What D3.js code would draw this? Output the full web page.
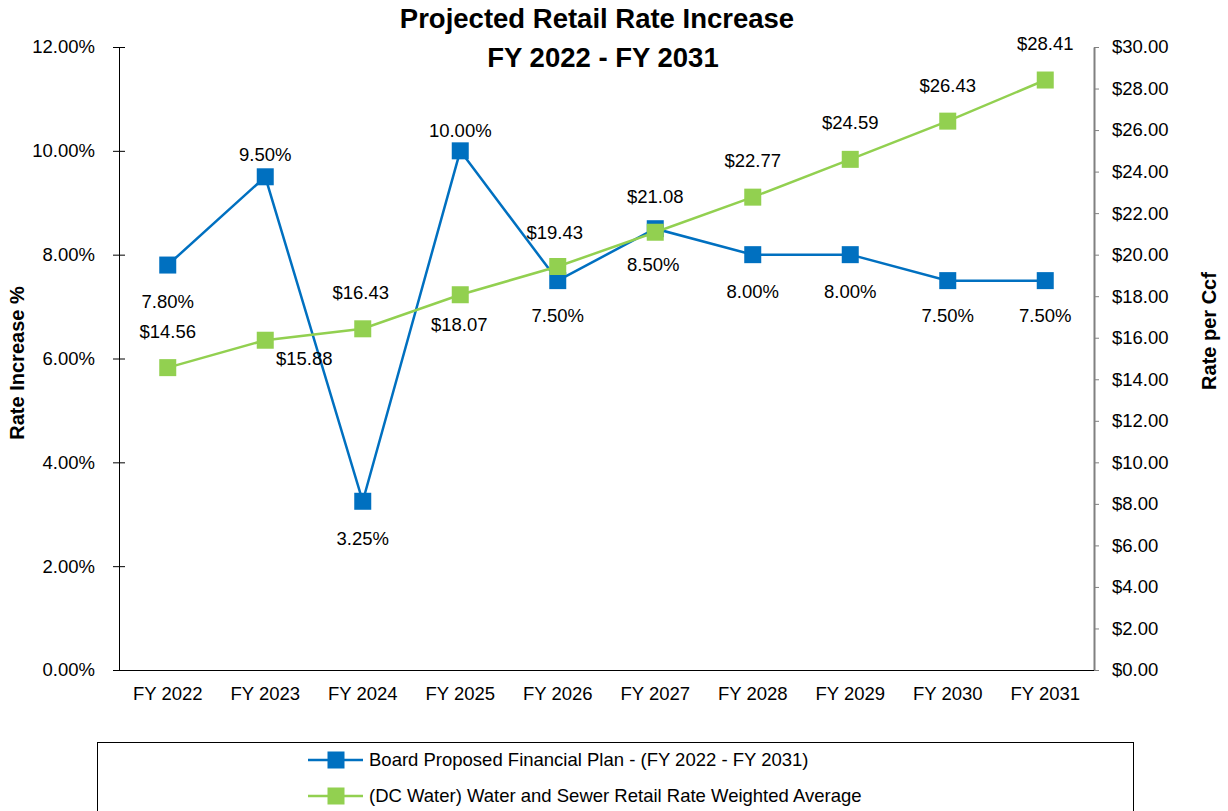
<!DOCTYPE html>
<html>
<head>
<meta charset="utf-8">
<script src="https://cdn.jsdelivr.net/npm/d3@7"></script>
<style>
  body { margin: 0; background: #fff; }
  text { font-family: "Liberation Sans", Arial, sans-serif; fill: #000; }
</style>
</head>
<body>
<div id="holder"></div>
<script>
const w = 1228;
const h = 811;

// Data
const years = ["FY 2022", "FY 2023", "FY 2024", "FY 2025", "FY 2026", "FY 2027", "FY 2028", "FY 2029", "FY 2030", "FY 2031"];
const rateIncrease = [7.80, 9.50, 3.25, 10.00, 7.50, 8.50, 8.00, 8.00, 7.50, 7.50];
const ratePerCcf = [14.56, 15.88, 16.43, 18.07, 19.43, 21.08, 22.77, 24.59, 26.43, 28.41];
const leftTicks = [0, 2, 4, 6, 8, 10, 12];
const rightTicks = [0, 2, 4, 6, 8, 10, 12, 14, 16, 18, 20, 22, 24, 26, 28, 30];
const seriesNames = ["Board Proposed Financial Plan - (FY 2022 - FY 2031)", "(DC Water) Water and Sewer Retail Rate Weighted Average"];

const blue = "#0070C0";
const green = "#92D050";
const fs = 18.5;

// label placement (dx, dy from marker)
const blueLabelPos = [[0, 36], [0, -22], [0, 37], [0, -20], [0, 35], [-2, 36], [0, 37], [0, 37], [0, 35], [0, 35]];
const greenLabelPos = [[0, -36], [39, 18], [-2, -36], [-1, 30], [-3, -34], [0, -36], [0, -37], [0, -37], [0, -36], [0, -36]];

const svg = d3.select("#holder")
    .append("svg")
    .attr("width", w)
    .attr("height", h)

const plotLeft = 119, plotRight = 1094, plotTop = 47, plotBottom = 670;

const x = d3.scaleBand()
    .domain(years)
    .range([plotLeft, plotRight])

const yLeft = d3.scaleLinear()
    .domain([0, 12])
    .range([plotBottom, plotTop])

const yRight = d3.scaleLinear()
    .domain([0, 30])
    .range([plotBottom, plotTop])

// Title
svg.append("text")
    .attr("x", 597).attr("y", 28)
    .attr("text-anchor", "middle")
    .attr("font-size", 27.5).attr("font-weight", "bold")
    .text("Projected Retail Rate Increase")
svg.append("text")
    .attr("x", 603).attr("y", 67)
    .attr("text-anchor", "middle")
    .attr("font-size", 27.5).attr("font-weight", "bold")
    .text("FY 2022 - FY 2031")

// Left axis (cross ticks)
const leftAxis = d3.axisLeft(yLeft)
    .tickValues(leftTicks)
    .tickFormat(d => d.toFixed(2) + "%")
    .tickSizeInner(6)
    .tickSizeOuter(0)
    .tickPadding(18)

const gLeft = svg.append("g")
    .attr("transform", `translate(${plotLeft},0)`)
    .call(leftAxis)
gLeft.selectAll(".tick line").attr("x2", -6).attr("x1", 6).attr("stroke", "#000")
gLeft.select(".domain").attr("stroke", "#000")
gLeft.selectAll("text").attr("font-size", fs).attr("font-family", "Liberation Sans")

// Right axis
const rightAxis = d3.axisRight(yRight)
    .tickValues(rightTicks)
    .tickFormat(d => "$" + d.toFixed(2))
    .tickSizeInner(5)
    .tickSizeOuter(0)
    .tickPadding(13)

const gRight = svg.append("g")
    .attr("transform", `translate(${plotRight},0)`)
    .call(rightAxis)
gRight.selectAll(".tick line").attr("stroke", "#808080")
gRight.select(".domain").attr("stroke", "#808080").attr("stroke-width", 2)
gRight.selectAll("text").attr("font-size", fs).attr("font-family", "Liberation Sans")

// X axis
const xAxis = d3.axisBottom(x)
    .tickSize(0)
    .tickPadding(17)

const gX = svg.append("g")
    .attr("transform", `translate(0,${plotBottom})`)
    .call(xAxis)
gX.select(".domain").attr("stroke", "#000").attr("d", `M${plotLeft - 6},0.5H${plotRight}`)
gX.selectAll("text").attr("font-size", fs).attr("font-family", "Liberation Sans")

// Axis titles
svg.append("text")
    .attr("transform", `translate(24,${363}) rotate(-90)`)
    .attr("text-anchor", "middle")
    .attr("font-size", 20).attr("font-weight", "bold")
    .text("Rate Increase %")
svg.append("text")
    .attr("transform", `translate(1216,${331}) rotate(-90)`)
    .attr("text-anchor", "middle")
    .attr("font-size", 20).attr("font-weight", "bold")
    .text("Rate per Ccf")

const cx = d => x(d) + x.bandwidth() / 2;
const m = 17;

// Blue series: line then markers
const blueLine = d3.line()
    .x((d, i) => cx(years[i]))
    .y(d => yLeft(d))

svg.append("path")
    .datum(rateIncrease)
    .attr("d", blueLine)
    .attr("fill", "none").attr("stroke", blue).attr("stroke-width", 2.5)

svg.selectAll(".blue-pt")
    .data(rateIncrease)
    .join("rect")
    .attr("class", "blue-pt")
    .attr("x", (d, i) => cx(years[i]) - m / 2)
    .attr("y", d => yLeft(d) - m / 2)
    .attr("width", m).attr("height", m)
    .attr("fill", blue)

// Green series on top
const greenLine = d3.line()
    .x((d, i) => cx(years[i]))
    .y(d => yRight(d))

svg.append("path")
    .datum(ratePerCcf)
    .attr("d", greenLine)
    .attr("fill", "none").attr("stroke", green).attr("stroke-width", 2.5)

svg.selectAll(".green-pt")
    .data(ratePerCcf)
    .join("rect")
    .attr("class", "green-pt")
    .attr("x", (d, i) => cx(years[i]) - m / 2)
    .attr("y", d => yRight(d) - m / 2)
    .attr("width", m).attr("height", m)
    .attr("fill", green)

// Data labels
svg.selectAll(".blue-lbl")
    .data(rateIncrease)
    .join("text")
    .attr("class", "blue-lbl")
    .attr("x", (d, i) => cx(years[i]) + blueLabelPos[i][0])
    .attr("y", (d, i) => yLeft(d) + blueLabelPos[i][1])
    .attr("dy", "0.35em")
    .attr("text-anchor", "middle")
    .attr("font-size", fs)
    .text(d => d.toFixed(2) + "%")

svg.selectAll(".green-lbl")
    .data(ratePerCcf)
    .join("text")
    .attr("class", "green-lbl")
    .attr("x", (d, i) => cx(years[i]) + greenLabelPos[i][0])
    .attr("y", (d, i) => yRight(d) + greenLabelPos[i][1])
    .attr("dy", "0.35em")
    .attr("text-anchor", "middle")
    .attr("font-size", fs)
    .text(d => "$" + d.toFixed(2))

// Legend
svg.append("rect")
    .attr("x", 97.5).attr("y", 742.5)
    .attr("width", 1036).attr("height", 100)
    .attr("fill", "none").attr("stroke", "#000")

const legend = svg.selectAll(".legend-item")
    .data(seriesNames)
    .join("g")
    .attr("class", "legend-item")
    .attr("transform", (d, i) => `translate(308,${760 + i * 36})`)

legend.append("line")
    .attr("x1", 0).attr("x2", 55)
    .attr("stroke", (d, i) => i === 0 ? blue : green)
    .attr("stroke-width", 2.5)
legend.append("rect")
    .attr("x", 28 - m / 2).attr("y", -m / 2)
    .attr("width", m).attr("height", m)
    .attr("fill", (d, i) => i === 0 ? blue : green)
legend.append("text")
    .attr("x", 61).attr("dy", "0.35em")
    .attr("font-size", fs)
    .text(d => d)
</script>
</body>
</html>
